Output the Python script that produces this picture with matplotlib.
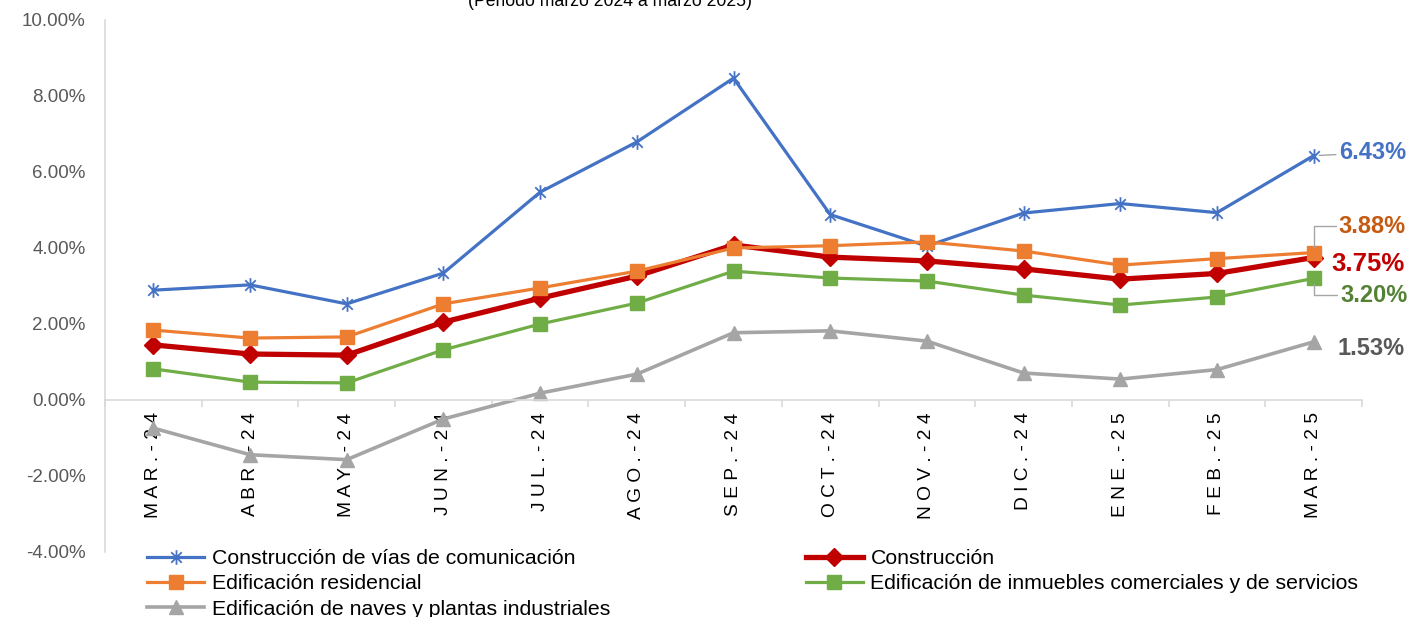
import numpy as np
import matplotlib.pyplot as plt
from matplotlib.path import Path
from matplotlib.ticker import FuncFormatter, FixedLocator, NullFormatter

plt.rcParams['font.family'] = ['Liberation Sans', 'DejaVu Sans']

# ---------------- datos ----------------
meses = ['MAR.-24', 'ABR.-24', 'MAY.-24', 'JUN.-24', 'JUL.-24', 'AGO.-24', 'SEP.-24',
         'OCT.-24', 'NOV.-24', 'DIC.-24', 'ENE.-25', 'FEB.-25', 'MAR.-25']
vias = [2.89, 3.03, 2.53, 3.34, 5.47, 6.79, 8.47, 4.88, 4.05, 4.92, 5.17, 4.93, 6.43]
construccion = [1.45, 1.21, 1.18, 2.05, 2.68, 3.26, 4.08, 3.76, 3.66, 3.45, 3.18, 3.33, 3.75]
residencial = [1.84, 1.63, 1.66, 2.53, 2.95, 3.39, 4.00, 4.06, 4.16, 3.92, 3.55, 3.72, 3.88]
comerciales = [0.82, 0.47, 0.45, 1.32, 2.00, 2.55, 3.39, 3.21, 3.13, 2.76, 2.50, 2.71, 3.20]
naves = [-0.74, -1.44, -1.57, -0.50, 0.18, 0.68, 1.77, 1.82, 1.55, 0.71, 0.55, 0.80, 1.53]

x = np.arange(len(meses))

# marcador tipo asterisco de Excel
star = Path([(0, -1), (0, 1), (-0.72, -0.72), (0.72, 0.72), (-0.72, 0.72), (0.72, -0.72)],
            [Path.MOVETO, Path.LINETO, Path.MOVETO, Path.LINETO, Path.MOVETO, Path.LINETO])

fig = plt.figure(figsize=(14.08, 6.17), dpi=100)
ax = fig.add_axes([105 / 1408, 1 - 552 / 617, (1362 - 105) / 1408, 532 / 617])

l1, = ax.plot(x, vias, color='#4472C4', lw=2.3, marker=star, ms=10.5, mew=1.3,
              mec='#4472C4', label='Construcción de vías de comunicación')
l2, = ax.plot(x, construccion, color='#C00000', lw=3.8, marker='D', ms=9.5,
              label='Construcción')
l3, = ax.plot(x, residencial, color='#ED7D31', lw=2.3, marker='s', ms=10,
              label='Edificación residencial')
l4, = ax.plot(x, comerciales, color='#70AD47', lw=2.3, marker='s', ms=10,
              label='Edificación de inmuebles comerciales y de servicios')
l5, = ax.plot(x, naves, color='#A5A5A5', lw=2.6, marker='^', ms=10.5,
              label='Edificación de naves y plantas industriales')

ax.set_xlim(-0.5, len(meses) - 0.5)
ax.set_ylim(-4, 10)
ax.set_yticks(np.arange(-4, 10.1, 2))
ax.yaxis.set_major_formatter(FuncFormatter(lambda v, p: f'{v:.2f}%'))
ax.tick_params(axis='y', length=0, pad=14, labelsize=13.5, labelcolor='#595959')

# marcas entre categorias y etiquetas en las categorias
ax.xaxis.set_major_locator(FixedLocator(np.arange(-0.5, len(meses), 1)))
ax.xaxis.set_major_formatter(NullFormatter())
ax.xaxis.set_minor_locator(FixedLocator(x))
ax.xaxis.set_minor_formatter(FuncFormatter(lambda v, p: ' '.join(meses[int(round(v))])))
ax.tick_params(axis='x', which='major', length=5, color='#D9D9D9', width=1.2)
ax.tick_params(axis='x', which='minor', length=0, pad=9, labelsize=13.8,
               labelcolor='#000000', labelrotation=90)
fig.canvas.draw()
for t in ax.get_xticklabels(minor=True):
    t.set_va('top')

for s in ['top', 'right']:
    ax.spines[s].set_visible(False)
ax.spines['bottom'].set_position(('data', 0))
ax.spines['bottom'].set_color('#D9D9D9')
ax.spines['bottom'].set_linewidth(1.2)
ax.spines['left'].set_color('#D9D9D9')
ax.spines['left'].set_linewidth(1.2)

# etiquetas del ultimo dato
leader = dict(arrowstyle='-', color='#A5A5A5', lw=1, shrinkA=0, shrinkB=4)
last = len(meses) - 1
ax.annotate(f'{vias[-1]:.2f}%', (last, vias[-1]), xytext=(18, 2), textcoords='offset points',
            color='#4472C4', fontsize=17, fontweight='bold', va='center', ha='left',
            arrowprops=leader)
ax.annotate(f'{residencial[-1]:.2f}%', (last, residencial[-1]), xytext=(18, 19),
            textcoords='offset points', color='#C55A11', fontsize=17, fontweight='bold',
            va='center', ha='left',
            arrowprops=dict(leader, connectionstyle='angle,angleA=0,angleB=90,rad=0'))
ax.annotate(f'{construccion[-1]:.2f}%', (last, construccion[-1]), xytext=(13, -5),
            textcoords='offset points', color='#C00000', fontsize=18.5, fontweight='bold',
            va='center', ha='left')
ax.annotate(f'{comerciales[-1]:.2f}%', (last, comerciales[-1]), xytext=(19, -12),
            textcoords='offset points', color='#548235', fontsize=17, fontweight='bold',
            va='center', ha='left',
            arrowprops=dict(leader, connectionstyle='angle,angleA=0,angleB=90,rad=0'))
ax.annotate(f'{naves[-1]:.2f}%', (last, naves[-1]), xytext=(17, -5),
            textcoords='offset points', color='#595959', fontsize=17, fontweight='bold',
            va='center', ha='left')

# titulo (recortado en el original)
fig.text(610 / 1408, 1 - 6 / 617, '(Periodo marzo 2024 a marzo 2025)', ha='center',
         va='baseline', fontsize=12.7)

fig.legend(handles=[l1, l3, l5, l2, l4], loc='upper left', ncol=2, frameon=False,
           bbox_to_anchor=(147 / 1408, 1 - 549 / 617), fontsize=15.3, handlelength=2.7,
           handletextpad=0.35, columnspacing=9.2, labelspacing=0.3, borderpad=0,
           borderaxespad=0)

fig.savefig('out.png', dpi=100)
